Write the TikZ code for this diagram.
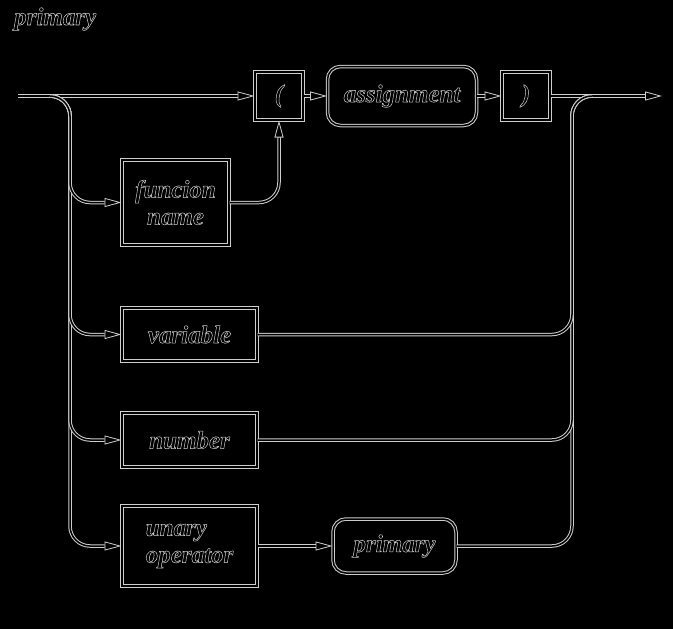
\documentclass[tikz,border=0pt]{standalone}
\usepackage{fontspec}
\setmainfont{Liberation Serif}
\usetikzlibrary{arrows.meta}
\usetikzlibrary{calc}
\usetikzlibrary{positioning}
\definecolor{rail-grey}{RGB}{205,205,205}
\newcommand{\hollow}[1]{\special{pdf:literal direct 1 Tr 0.5 w}#1\special{pdf:literal direct 0 Tr}}

\begin{document}
\begin{tikzpicture}[x=1pt, y=-1pt,
    rail/.style={draw=rail-grey, line width=1pt, double=black, double distance=1.5pt},
    tip/.style={-{Triangle[open, length=17pt, width=9pt, line width=0.8pt]}},
    label text/.style={text=rail-grey, font=\fontsize{25}{27}\selectfont\bfseries\itshape},
    term/.style={rail, rectangle, inner sep=0pt, label text},
    nonterm/.style={term, rounded corners=13pt}]
\fill[black] (0,0) rectangle (673,629);
\useasboundingbox (0,0) rectangle (673,629);

\node[anchor=base west, inner sep=0pt, label text] (title) at (14,25) {\hollow{primary}};

\node[term, minimum width=48pt, minimum height=48pt] (lparen) at (279,96) {\hollow{(}};
\node[nonterm, minimum width=149pt, minimum height=59pt] (assign) at (402,96) {\hollow{assignment}};
\node[term, minimum width=48pt, minimum height=48pt] (rparen) at (526,96) {\hollow{)}};
\node[term, minimum width=107pt, minimum height=85pt, align=center] (funcname) at (175.5,202.5) {\hollow{funcion}\\\hollow{name}};
\node[term, minimum width=135pt, minimum height=53pt] (variable) at (189.5,334.5) {\hollow{variable}};
\node[term, minimum width=135pt, minimum height=54pt] (number) at (189.5,440) {\hollow{number}};
\node[term, minimum width=135pt, minimum height=80pt, align=left] (unaryop) at (189.5,546) {\hollow{unary}\\\hollow{operator}};
\node[nonterm, minimum width=123pt, minimum height=54pt] (prim) at (394.5,546) {\hollow{primary}};

\coordinate (start) at (18,96);
\coordinate (finish) at (662,96);
\coordinate (lfork) at (70,96);
\coordinate (rfork) at (572,96);

\draw[rail, tip] (start) -- (lparen.west);
\draw[rail, tip] (lparen.east) -- (assign.west);
\draw[rail, tip] (assign.east) -- (rparen.west);
\draw[rail, tip] (rparen.east) -- (finish);

\draw[rail, tip, rounded corners=20pt] ($(lfork)+(-20,0)$) -- (lfork) |- (unaryop.west);
\draw[rail, tip, rounded corners=20pt] ($(lfork)+(-20,0)$) -- (lfork) |- (number.west);
\draw[rail, tip, rounded corners=20pt] ($(lfork)+(-20,0)$) -- (lfork) |- (variable.west);
\draw[rail, tip, rounded corners=20pt] ($(lfork)+(-20,0)$) -- (lfork) |- (funcname.west);

\draw[rail, tip, rounded corners=20pt] (funcname.east) -| (lparen.south);
\draw[rail, tip] (unaryop.east) -- (prim.west);

\draw[rail, rounded corners=20pt] (prim.east) -| (rfork) -- ($(rfork)+(20,0)$);
\draw[rail, rounded corners=20pt] (number.east) -| (rfork) -- ($(rfork)+(20,0)$);
\draw[rail, rounded corners=20pt] (variable.east) -| (rfork) -- ($(rfork)+(20,0)$);
\end{tikzpicture}
\end{document}
